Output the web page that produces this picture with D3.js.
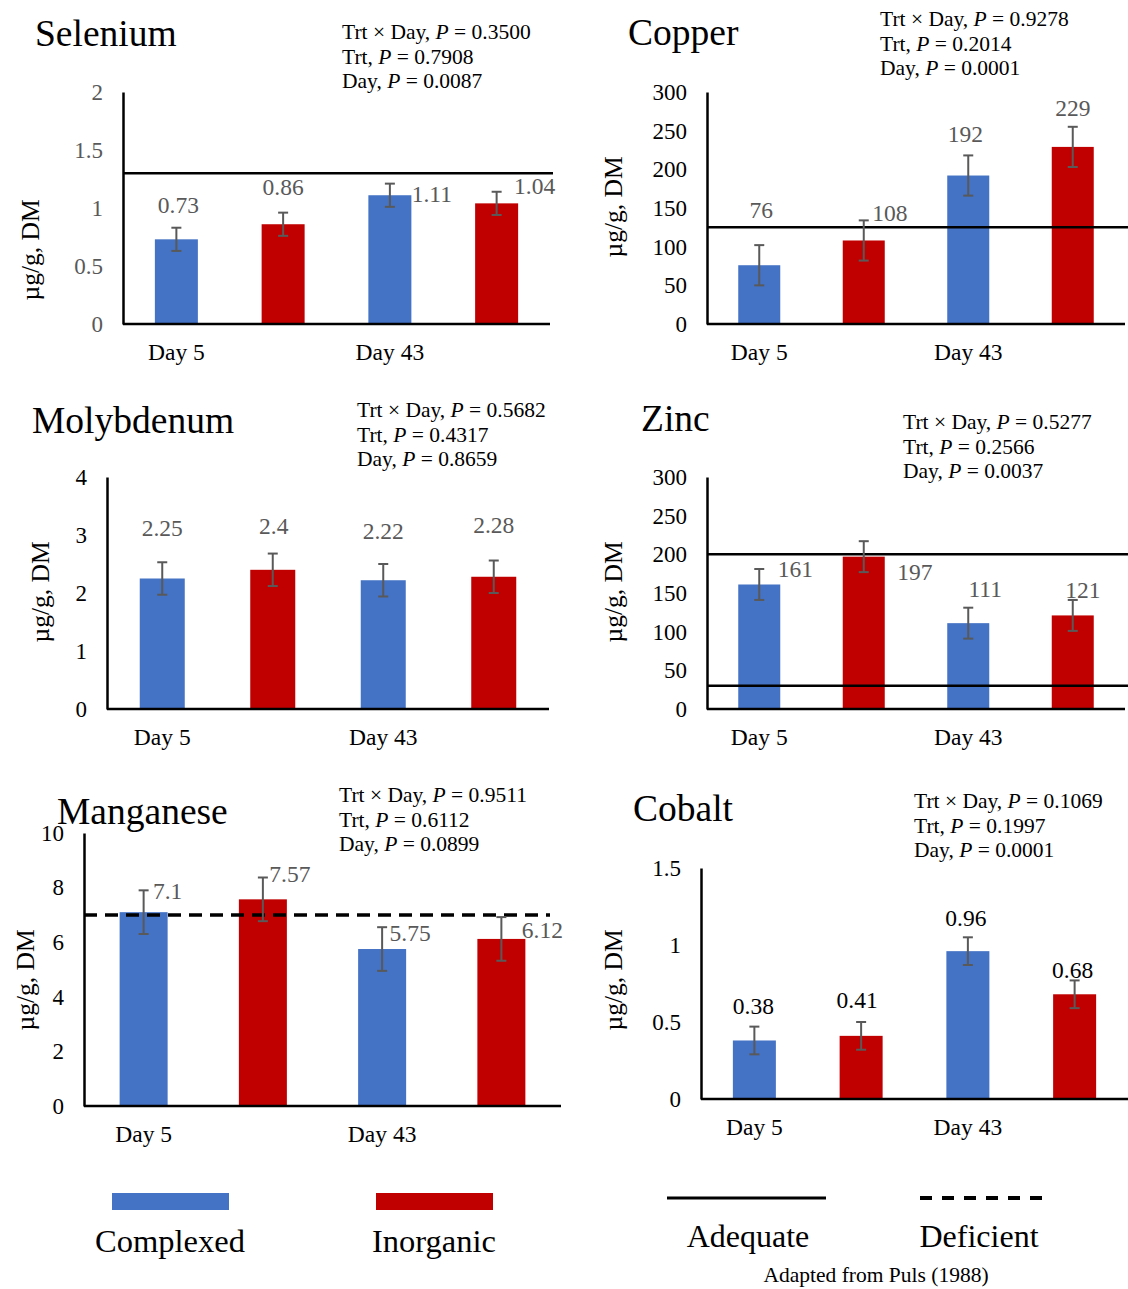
<!DOCTYPE html>
<html>
<head>
<meta charset="utf-8">
<script src="https://cdn.jsdelivr.net/npm/d3@7"></script>
<style>
    body { margin: 0; background: #fff; }
    text { font-family: "Liberation Serif", "Times New Roman", serif; }
</style>
</head>
<body>
<div id="chart"></div>
<script>
var days = ["Day 5", "Day 43"];
var treatments = ["Complexed", "Inorganic"];
var bars = ["Day 5 Complexed", "Day 5 Inorganic", "Day 43 Complexed", "Day 43 Inorganic"];
var pTerms = ["Trt \u00d7 Day, ", "Trt, ", "Day, "];

var seleniumMean = [0.73, 0.86, 1.11, 1.04];
var seleniumErr = [0.1, 0.1, 0.1, 0.1];
var seleniumTicks = [0, 0.5, 1, 1.5, 2];
var seleniumAdequate = [1.3];
var seleniumP = ["0.3500", "0.7908", "0.0087"];

var copperMean = [76, 108, 192, 229];
var copperErr = [26, 26, 26, 26];
var copperTicks = [0, 50, 100, 150, 200, 250, 300];
var copperAdequate = [125];
var copperP = ["0.9278", "0.2014", "0.0001"];

var molybdenumMean = [2.25, 2.4, 2.22, 2.28];
var molybdenumErr = [0.28, 0.28, 0.28, 0.28];
var molybdenumTicks = [0, 1, 2, 3, 4];
var molybdenumP = ["0.5682", "0.4317", "0.8659"];

var zincMean = [161, 197, 111, 121];
var zincErr = [20, 20, 20, 20];
var zincTicks = [0, 50, 100, 150, 200, 250, 300];
var zincAdequate = [200, 30];
var zincP = ["0.5277", "0.2566", "0.0037"];

var manganeseMean = [7.1, 7.57, 5.75, 6.12];
var manganeseErr = [0.8, 0.8, 0.8, 0.8];
var manganeseTicks = [0, 2, 4, 6, 8, 10];
var manganeseDeficient = [7];
var manganeseP = ["0.9511", "0.6112", "0.0899"];

var cobaltMean = [0.38, 0.41, 0.96, 0.68];
var cobaltErr = [0.09, 0.09, 0.09, 0.09];
var cobaltTicks = [0, 0.5, 1, 1.5];
var cobaltP = ["0.1069", "0.1997", "0.0001"];

var colors = { "Complexed": "#4472C4", "Inorganic": "#C00000" };

var svg = d3.select("#chart")
    .append("svg")
    .attr("width", 1128)
    .attr("height", 1289)
    .style("background-color", "white");

// layout of each panel: axis box, label offsets (dx, dy from error bar top)
var panels = [
    { title: "Selenium", mean: seleniumMean, err: seleniumErr, ticks: seleniumTicks, p: seleniumP,
      solid: seleniumAdequate, dashed: [],
      left: 123, right: 550, top: 92, bottom: 324, refRight: 553, barW: 43,
      titleX: 35, titleY: 46, pX: 342, pY: 39, ylabX: 30, ylabY: 250,
      tickColor: "#595959", valColor: "#595959",
      offs: [[2, -23], [0, -26], [42, 10], [38, -6]] },
    { title: "Copper", mean: copperMean, err: copperErr, ticks: copperTicks, p: copperP,
      solid: copperAdequate, dashed: [],
      left: 707, right: 1125, top: 92, bottom: 324, refRight: 1128, barW: 42,
      titleX: 628, titleY: 45, pX: 880, pY: 26, ylabX: 613, ylabY: 207,
      tickColor: "#000", valColor: "#595959",
      offs: [[2, -35], [26, -8], [-3, -22], [0, -19]] },
    { title: "Molybdenum", mean: molybdenumMean, err: molybdenumErr, ticks: molybdenumTicks, p: molybdenumP,
      solid: [], dashed: [],
      left: 107, right: 549, top: 477, bottom: 709, refRight: 549, barW: 45,
      titleX: 32, titleY: 433, pX: 357, pY: 417, ylabX: 40, ylabY: 592,
      tickColor: "#000", valColor: "#595959",
      offs: [[0, -34], [1, -28], [0, -33], [0, -36]] },
    { title: "Zinc", mean: zincMean, err: zincErr, ticks: zincTicks, p: zincP,
      solid: zincAdequate, dashed: [],
      left: 707, right: 1125, top: 477, bottom: 709, refRight: 1128, barW: 42,
      titleX: 641, titleY: 431, pX: 903, pY: 429, ylabX: 613, ylabY: 592,
      tickColor: "#000", valColor: "#595959",
      offs: [[36, 0], [51, 31], [17, -19], [10, -10]] },
    { title: "Manganese", mean: manganeseMean, err: manganeseErr, ticks: manganeseTicks, p: manganeseP,
      solid: [], dashed: manganeseDeficient,
      left: 84, right: 561, top: 833, bottom: 1106, refRight: 550, barW: 48,
      titleX: 57, titleY: 824, pX: 339, pY: 802, ylabX: 25, ylabY: 980,
      tickColor: "#000", valColor: "#595959",
      offs: [[24, 0], [27, -4], [28, 6], [41, 13]] },
    { title: "Cobalt", mean: cobaltMean, err: cobaltErr, ticks: cobaltTicks, p: cobaltP,
      solid: [], dashed: [],
      left: 701, right: 1128, top: 868, bottom: 1099, refRight: 1128, barW: 43,
      titleX: 633, titleY: 821, pX: 914, pY: 808, ylabX: 613, ylabY: 980,
      tickColor: "#000", valColor: "#000",
      offs: [[-1, -21], [-4, -22], [-2, -20], [-2, -11]] }
];

panels.forEach(function (c) {
    var g = svg.append("g");

    var x = d3.scaleBand()
        .domain(bars)
        .range([c.left, c.right]);

    var y = d3.scaleLinear()
        .domain([0, d3.max(c.ticks)])
        .range([c.bottom, c.top]);

    var data = bars.map(function (b, i) {
        return { key: b, trt: treatments[i % 2], mean: c.mean[i], err: c.err[i], off: c.offs[i] };
    });

    // bars
    g.selectAll("rect.bar")
        .data(data)
        .enter()
        .append("rect")
        .attr("class", "bar")
        .attr("x", function (d) { return x(d.key) + x.bandwidth() / 2 - c.barW / 2; })
        .attr("y", function (d) { return y(d.mean); })
        .attr("width", c.barW)
        .attr("height", function (d) { return y(0) - y(d.mean); })
        .attr("fill", function (d) { return colors[d.trt]; });

    // reference lines
    c.solid.forEach(function (v) {
        g.append("line")
            .attr("x1", c.left).attr("x2", c.refRight)
            .attr("y1", y(v)).attr("y2", y(v))
            .attr("stroke", "#000").attr("stroke-width", 2.5);
    });
    c.dashed.forEach(function (v) {
        g.append("line")
            .attr("x1", c.left).attr("x2", c.refRight)
            .attr("y1", y(v)).attr("y2", y(v))
            .attr("stroke", "#000").attr("stroke-width", 3.5)
            .attr("stroke-dasharray", "13,8");
    });

    // error bars
    var eb = g.selectAll("g.err")
        .data(data)
        .enter()
        .append("g")
        .attr("stroke", "#595959")
        .attr("stroke-width", 2);
    eb.append("line")
        .attr("x1", function (d) { return x(d.key) + x.bandwidth() / 2; })
        .attr("x2", function (d) { return x(d.key) + x.bandwidth() / 2; })
        .attr("y1", function (d) { return y(d.mean + d.err); })
        .attr("y2", function (d) { return y(d.mean - d.err); });
    [1, -1].forEach(function (s) {
        eb.append("line")
            .attr("x1", function (d) { return x(d.key) + x.bandwidth() / 2 - 5; })
            .attr("x2", function (d) { return x(d.key) + x.bandwidth() / 2 + 5; })
            .attr("y1", function (d) { return y(d.mean + s * d.err); })
            .attr("y2", function (d) { return y(d.mean + s * d.err); });
    });

    // value labels
    g.selectAll("text.val")
        .data(data)
        .enter()
        .append("text")
        .attr("class", "val")
        .attr("x", function (d) { return x(d.key) + x.bandwidth() / 2 + d.off[0]; })
        .attr("y", function (d) { return y(d.mean + d.err) + d.off[1]; })
        .attr("dy", "0.35em")
        .attr("text-anchor", "middle")
        .attr("font-size", 23.5)
        .attr("fill", c.valColor)
        .text(function (d) { return String(d.mean); });

    // y axis
    var ax = g.append("g")
        .attr("transform", "translate(" + c.left + ",0)")
        .call(d3.axisLeft(y).tickValues(c.ticks).tickSize(0).tickPadding(20)
            .tickFormat(function (d) { return String(d); }));
    ax.select(".domain").attr("stroke", "#000").attr("stroke-width", 2.5);
    ax.selectAll("text")
        .attr("font-size", 23)
        .attr("font-family", "Liberation Serif")
        .attr("fill", c.tickColor);

    // baseline
    g.append("line")
        .attr("x1", c.left).attr("x2", c.right)
        .attr("y1", y(0)).attr("y2", y(0))
        .attr("stroke", "#000").attr("stroke-width", 2.5);

    // day labels under the first bar of each day
    g.selectAll("text.day")
        .data(days)
        .enter()
        .append("text")
        .attr("x", function (d, i) { return x(bars[i * 2]) + x.bandwidth() / 2; })
        .attr("y", c.bottom + 36)
        .attr("text-anchor", "middle")
        .attr("font-size", 23.5)
        .text(function (d) { return d; });

    // titles
    g.append("text")
        .attr("x", c.titleX).attr("y", c.titleY)
        .attr("font-size", 37.5)
        .text(c.title);

    var pt = g.append("text").attr("font-size", 21.5);
    pTerms.forEach(function (t, i) {
        var line = pt.append("tspan").attr("x", c.pX).attr("y", c.pY + i * 24.5);
        line.text(t);
        pt.append("tspan").attr("font-style", "italic").text("P");
        pt.append("tspan").text(" = " + c.p[i]);
    });

    g.append("text")
        .attr("transform", "translate(" + c.ylabX + "," + c.ylabY + ") rotate(-90)")
        .attr("text-anchor", "middle")
        .attr("dy", "0.35em")
        .attr("font-size", 25.5)
        .text("\u00b5g/g, DM");
});

// legend
var legend = svg.append("g");
var legendRects = [{ name: "Complexed", x: 112 }, { name: "Inorganic", x: 376 }];
legendRects.forEach(function (d) {
    legend.append("rect")
        .attr("x", d.x).attr("y", 1193)
        .attr("width", 117).attr("height", 17)
        .attr("fill", colors[d.name]);
    legend.append("text")
        .attr("x", d.x + 58).attr("y", 1252)
        .attr("text-anchor", "middle")
        .attr("font-size", 32.5)
        .text(d.name);
});
legend.append("line")
    .attr("x1", 667).attr("x2", 826).attr("y1", 1198).attr("y2", 1198)
    .attr("stroke", "#000").attr("stroke-width", 3);
legend.append("text")
    .attr("x", 748).attr("y", 1247)
    .attr("text-anchor", "middle").attr("font-size", 32)
    .text("Adequate");
legend.append("line")
    .attr("x1", 920).attr("x2", 1047).attr("y1", 1198).attr("y2", 1198)
    .attr("stroke", "#000").attr("stroke-width", 4)
    .attr("stroke-dasharray", "12,10");
legend.append("text")
    .attr("x", 979).attr("y", 1247)
    .attr("text-anchor", "middle").attr("font-size", 32)
    .text("Deficient");
legend.append("text")
    .attr("x", 876).attr("y", 1282)
    .attr("text-anchor", "middle").attr("font-size", 21.5)
    .text("Adapted from Puls (1988)");
</script>
</body>
</html>
